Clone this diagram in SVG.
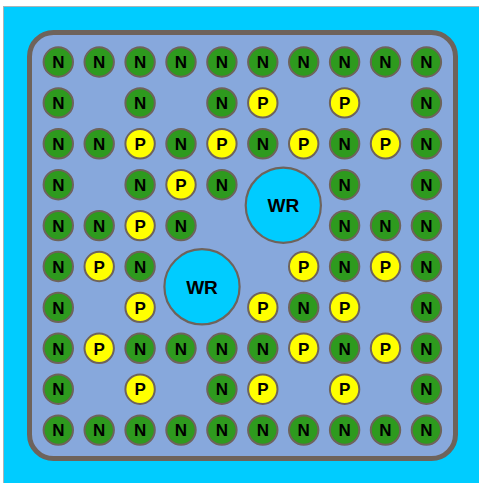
<svg xmlns="http://www.w3.org/2000/svg" width="479" height="483" viewBox="0 0 479 483">
<style>
.n circle{fill:#2E9A1E;stroke:#6E635B;stroke-width:2}
.p circle{fill:#FFFF00;stroke:#6E635B;stroke-width:2}
.w circle{fill:#00CCFF;stroke:#6E635B;stroke-width:2.2}
text{font-family:"Liberation Sans",Arial,sans-serif;font-weight:bold;fill:#000;text-anchor:middle}
.n text,.p text{font-size:17px}
.w text{font-size:19px}
</style>
<rect x="0" y="0" width="479" height="483" fill="#ffffff"/>
<rect x="3.5" y="6.5" width="480" height="480" fill="#00CCFF" stroke="#a9b4b8" stroke-width="1"/>
<rect id="plate" x="29.5" y="32.5" width="426" height="426" rx="24" ry="24" fill="#87A8DC" stroke="#6E635B" stroke-width="5"/>
<g id="connectors"></g>
<g id="nodes">
<!-- row 0 -->
<g id="r0c0" class="n" transform="translate(58.3,62)"><circle r="14.7"/><text y="6.2">N</text></g>
<g id="r0c1" class="n" transform="translate(99.2,62)"><circle r="14.7"/><text y="6.2">N</text></g>
<g id="r0c2" class="n" transform="translate(140.1,62)"><circle r="14.7"/><text y="6.2">N</text></g>
<g id="r0c3" class="n" transform="translate(181,62)"><circle r="14.7"/><text y="6.2">N</text></g>
<g id="r0c4" class="n" transform="translate(221.9,62)"><circle r="14.7"/><text y="6.2">N</text></g>
<g id="r0c5" class="n" transform="translate(262.8,62)"><circle r="14.7"/><text y="6.2">N</text></g>
<g id="r0c6" class="n" transform="translate(303.7,62)"><circle r="14.7"/><text y="6.2">N</text></g>
<g id="r0c7" class="n" transform="translate(344.6,62)"><circle r="14.7"/><text y="6.2">N</text></g>
<g id="r0c8" class="n" transform="translate(385.5,62)"><circle r="14.7"/><text y="6.2">N</text></g>
<g id="r0c9" class="n" transform="translate(426.4,62)"><circle r="14.7"/><text y="6.2">N</text></g>
<!-- row 1 -->
<g id="r1c0" class="n" transform="translate(58.3,102.9)"><circle r="14.7"/><text y="6.2">N</text></g>
<g id="r1c2" class="n" transform="translate(140.1,102.9)"><circle r="14.7"/><text y="6.2">N</text></g>
<g id="r1c4" class="n" transform="translate(221.9,102.9)"><circle r="14.7"/><text y="6.2">N</text></g>
<g id="r1c5" class="p" transform="translate(262.8,102.9)"><circle r="14.7"/><text y="6.2">P</text></g>
<g id="r1c7" class="p" transform="translate(344.6,102.9)"><circle r="14.7"/><text y="6.2">P</text></g>
<g id="r1c9" class="n" transform="translate(426.4,102.9)"><circle r="14.7"/><text y="6.2">N</text></g>
<!-- row 2 -->
<g id="r2c0" class="n" transform="translate(58.3,143.8)"><circle r="14.7"/><text y="6.2">N</text></g>
<g id="r2c1" class="n" transform="translate(99.2,143.8)"><circle r="14.7"/><text y="6.2">N</text></g>
<g id="r2c2" class="p" transform="translate(140.1,143.8)"><circle r="14.7"/><text y="6.2">P</text></g>
<g id="r2c3" class="n" transform="translate(181,143.8)"><circle r="14.7"/><text y="6.2">N</text></g>
<g id="r2c4" class="p" transform="translate(221.9,143.8)"><circle r="14.7"/><text y="6.2">P</text></g>
<g id="r2c5" class="n" transform="translate(262.8,143.8)"><circle r="14.7"/><text y="6.2">N</text></g>
<g id="r2c6" class="p" transform="translate(303.7,143.8)"><circle r="14.7"/><text y="6.2">P</text></g>
<g id="r2c7" class="n" transform="translate(344.6,143.8)"><circle r="14.7"/><text y="6.2">N</text></g>
<g id="r2c8" class="p" transform="translate(385.5,143.8)"><circle r="14.7"/><text y="6.2">P</text></g>
<g id="r2c9" class="n" transform="translate(426.4,143.8)"><circle r="14.7"/><text y="6.2">N</text></g>
<!-- row 3 -->
<g id="r3c0" class="n" transform="translate(58.3,184.7)"><circle r="14.7"/><text y="6.2">N</text></g>
<g id="r3c2" class="n" transform="translate(140.1,184.7)"><circle r="14.7"/><text y="6.2">N</text></g>
<g id="r3c3" class="p" transform="translate(181,184.7)"><circle r="14.7"/><text y="6.2">P</text></g>
<g id="r3c4" class="n" transform="translate(221.9,184.7)"><circle r="14.7"/><text y="6.2">N</text></g>
<g id="r3c7" class="n" transform="translate(344.6,184.7)"><circle r="14.7"/><text y="6.2">N</text></g>
<g id="r3c9" class="n" transform="translate(426.4,184.7)"><circle r="14.7"/><text y="6.2">N</text></g>
<!-- row 4 -->
<g id="r4c0" class="n" transform="translate(58.3,225.6)"><circle r="14.7"/><text y="6.2">N</text></g>
<g id="r4c1" class="n" transform="translate(99.2,225.6)"><circle r="14.7"/><text y="6.2">N</text></g>
<g id="r4c2" class="p" transform="translate(140.1,225.6)"><circle r="14.7"/><text y="6.2">P</text></g>
<g id="r4c3" class="n" transform="translate(181,225.6)"><circle r="14.7"/><text y="6.2">N</text></g>
<g id="r4c7" class="n" transform="translate(344.6,225.6)"><circle r="14.7"/><text y="6.2">N</text></g>
<g id="r4c8" class="n" transform="translate(385.5,225.6)"><circle r="14.7"/><text y="6.2">N</text></g>
<g id="r4c9" class="n" transform="translate(426.4,225.6)"><circle r="14.7"/><text y="6.2">N</text></g>
<!-- row 5 -->
<g id="r5c0" class="n" transform="translate(58.3,266.5)"><circle r="14.7"/><text y="6.2">N</text></g>
<g id="r5c1" class="p" transform="translate(99.2,266.5)"><circle r="14.7"/><text y="6.2">P</text></g>
<g id="r5c2" class="n" transform="translate(140.1,266.5)"><circle r="14.7"/><text y="6.2">N</text></g>
<g id="r5c6" class="p" transform="translate(303.7,266.5)"><circle r="14.7"/><text y="6.2">P</text></g>
<g id="r5c7" class="n" transform="translate(344.6,266.5)"><circle r="14.7"/><text y="6.2">N</text></g>
<g id="r5c8" class="p" transform="translate(385.5,266.5)"><circle r="14.7"/><text y="6.2">P</text></g>
<g id="r5c9" class="n" transform="translate(426.4,266.5)"><circle r="14.7"/><text y="6.2">N</text></g>
<!-- row 6 -->
<g id="r6c0" class="n" transform="translate(58.3,307.4)"><circle r="14.7"/><text y="6.2">N</text></g>
<g id="r6c2" class="p" transform="translate(140.1,307.4)"><circle r="14.7"/><text y="6.2">P</text></g>
<g id="r6c5" class="p" transform="translate(262.8,307.4)"><circle r="14.7"/><text y="6.2">P</text></g>
<g id="r6c6" class="n" transform="translate(303.7,307.4)"><circle r="14.7"/><text y="6.2">N</text></g>
<g id="r6c7" class="p" transform="translate(344.6,307.4)"><circle r="14.7"/><text y="6.2">P</text></g>
<g id="r6c9" class="n" transform="translate(426.4,307.4)"><circle r="14.7"/><text y="6.2">N</text></g>
<!-- row 7 -->
<g id="r7c0" class="n" transform="translate(58.3,348.3)"><circle r="14.7"/><text y="6.2">N</text></g>
<g id="r7c1" class="p" transform="translate(99.2,348.3)"><circle r="14.7"/><text y="6.2">P</text></g>
<g id="r7c2" class="n" transform="translate(140.1,348.3)"><circle r="14.7"/><text y="6.2">N</text></g>
<g id="r7c3" class="n" transform="translate(181,348.3)"><circle r="14.7"/><text y="6.2">N</text></g>
<g id="r7c4" class="n" transform="translate(221.9,348.3)"><circle r="14.7"/><text y="6.2">N</text></g>
<g id="r7c5" class="n" transform="translate(262.8,348.3)"><circle r="14.7"/><text y="6.2">N</text></g>
<g id="r7c6" class="p" transform="translate(303.7,348.3)"><circle r="14.7"/><text y="6.2">P</text></g>
<g id="r7c7" class="n" transform="translate(344.6,348.3)"><circle r="14.7"/><text y="6.2">N</text></g>
<g id="r7c8" class="p" transform="translate(385.5,348.3)"><circle r="14.7"/><text y="6.2">P</text></g>
<g id="r7c9" class="n" transform="translate(426.4,348.3)"><circle r="14.7"/><text y="6.2">N</text></g>
<!-- row 8 -->
<g id="r8c0" class="n" transform="translate(58.3,389.2)"><circle r="14.7"/><text y="6.2">N</text></g>
<g id="r8c2" class="p" transform="translate(140.1,389.2)"><circle r="14.7"/><text y="6.2">P</text></g>
<g id="r8c4" class="n" transform="translate(221.9,389.2)"><circle r="14.7"/><text y="6.2">N</text></g>
<g id="r8c5" class="p" transform="translate(262.8,389.2)"><circle r="14.7"/><text y="6.2">P</text></g>
<g id="r8c7" class="p" transform="translate(344.6,389.2)"><circle r="14.7"/><text y="6.2">P</text></g>
<g id="r8c9" class="n" transform="translate(426.4,389.2)"><circle r="14.7"/><text y="6.2">N</text></g>
<!-- row 9 -->
<g id="r9c0" class="n" transform="translate(58.3,430.1)"><circle r="14.7"/><text y="6.2">N</text></g>
<g id="r9c1" class="n" transform="translate(99.2,430.1)"><circle r="14.7"/><text y="6.2">N</text></g>
<g id="r9c2" class="n" transform="translate(140.1,430.1)"><circle r="14.7"/><text y="6.2">N</text></g>
<g id="r9c3" class="n" transform="translate(181,430.1)"><circle r="14.7"/><text y="6.2">N</text></g>
<g id="r9c4" class="n" transform="translate(221.9,430.1)"><circle r="14.7"/><text y="6.2">N</text></g>
<g id="r9c5" class="n" transform="translate(262.8,430.1)"><circle r="14.7"/><text y="6.2">N</text></g>
<g id="r9c6" class="n" transform="translate(303.7,430.1)"><circle r="14.7"/><text y="6.2">N</text></g>
<g id="r9c7" class="n" transform="translate(344.6,430.1)"><circle r="14.7"/><text y="6.2">N</text></g>
<g id="r9c8" class="n" transform="translate(385.5,430.1)"><circle r="14.7"/><text y="6.2">N</text></g>
<g id="r9c9" class="n" transform="translate(426.4,430.1)"><circle r="14.7"/><text y="6.2">N</text></g>
<!-- water rods -->
<g id="wr1" class="w" transform="translate(283.3,205.2)"><circle r="37.6"/><text y="6.8">WR</text></g>
<g id="wr2" class="w" transform="translate(202,286.8)"><circle r="37.6"/><text y="6.8">WR</text></g>
</g>
</svg>
